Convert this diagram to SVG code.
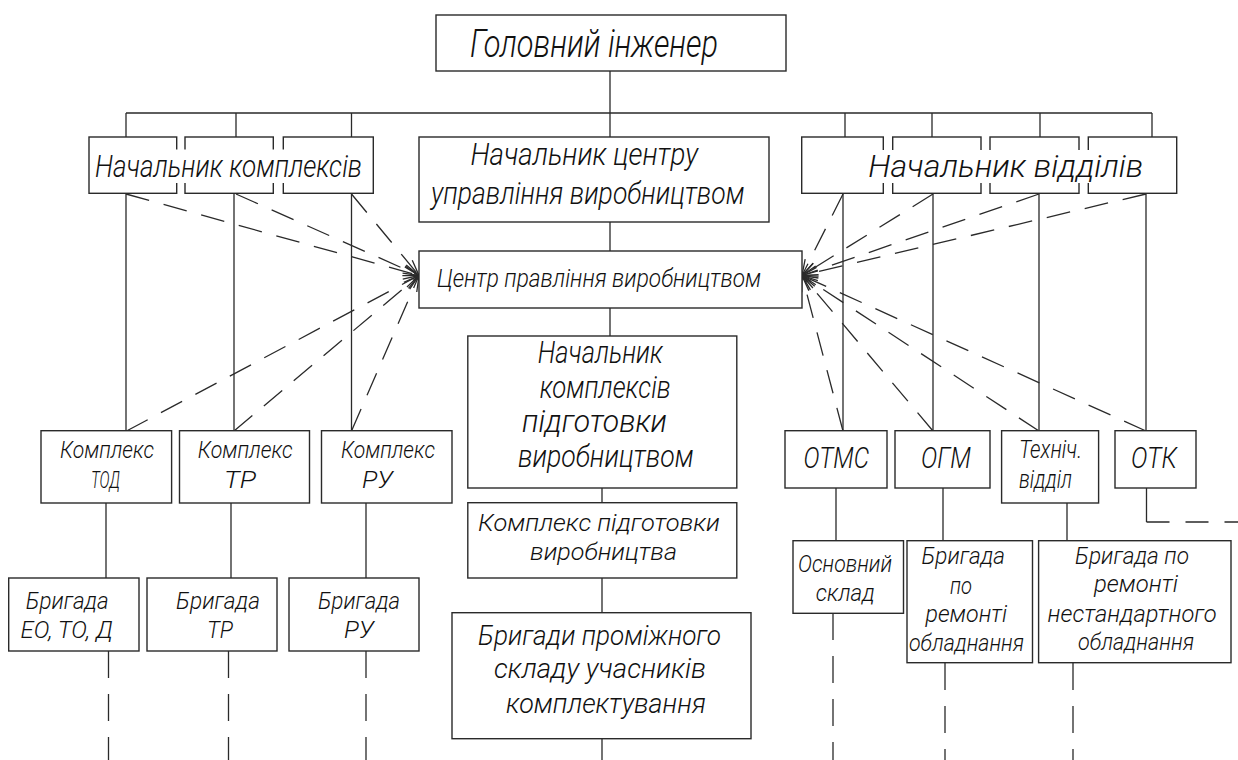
<svg xmlns="http://www.w3.org/2000/svg" width="1238" height="760" viewBox="0 0 1238 760">
<style>
.bg{fill:#fff}
.box{fill:#fff;stroke:#2a2a2a;stroke-width:1.4}
.mask{fill:#fff;stroke:none}
.ln{fill:none;stroke:#2a2a2a;stroke-width:1.3}
.dd{fill:none;stroke:#2a2a2a;stroke-width:1.3;stroke-dasharray:24 15}
.dv{fill:none;stroke:#2a2a2a;stroke-width:1.3;stroke-dasharray:27 16}
.dh{fill:none;stroke:#2a2a2a;stroke-width:1.3;stroke-dasharray:23 16}
.ar{marker-end:url(#ah)}
text{font-family:Roboto,"DejaVu Sans","Liberation Sans",sans-serif;font-style:italic;font-weight:300;fill:#111}
</style>
<defs>
<marker id="ah" markerUnits="userSpaceOnUse" orient="auto" refX="0" refY="0" markerWidth="20" markerHeight="12" overflow="visible">
<path d="M-16,-4.5 L0,0 L-16,4.5" fill="none" stroke="#2a2a2a" stroke-width="1.3" stroke-dasharray="none"/>
</marker>
</defs>
<rect class="bg" x="0" y="0" width="1238" height="760"/>

<g id="connectors">
<path class="ln" d="M610,71 V137 M126,113 H1152 M126,113 V137 M236,113 V137 M351.5,113 V137 M845,113 V137 M932,113 V137 M1040,113 V137 M1152,113 V137"/>
<path class="ln" d="M610,222 V251 M610,308 V336 M602,488 V503 M602,578 V613 M602,739 V760"/>
<path class="ln" d="M126,194 V431 M234,194 V431 M351.5,194 V431 M843,194 V431 M933,194 V431 M1039,194 V431 M1146,194 V431"/>
<path class="ln" d="M106,503 V578 M231,503 V578 M366,503 V578 M836,488 V541 M943,488 V541 M1067,503 V541 M1146.5,488 V522"/>
<path class="dh" d="M1146.5,522 H1238"/>
<path class="dv" d="M108.5,651 V760 M228.5,651 V760 M366,651 V760 M833,613 V760 M945,663 V760 M1073,663 V760"/>
<path class="dd ar" d="M126,194 L419,275.5"/>
<path class="dd ar" d="M236,194 L419,275.5"/>
<path class="dd ar" d="M351.5,194 L419,275.5"/>
<path class="dd ar" d="M126.5,431 L419,275.5"/>
<path class="dd ar" d="M234,431 L419,275.5"/>
<path class="dd ar" d="M351.5,431 L419,275.5"/>
<path class="dd ar" d="M843,194 L802,275.5"/>
<path class="dd ar" d="M933,194 L802,275.5"/>
<path class="dd ar" d="M1039,194 L802,275.5"/>
<path class="dd ar" d="M1146,194 L802,275.5"/>
<path class="dd ar" d="M843,431 L802,275.5"/>
<path class="dd ar" d="M933,431 L802,275.5"/>
<path class="dd ar" d="M1039,431 L802,275.5"/>
<path class="dd ar" d="M1146,431 L802,275.5"/>
</g>

<g id="n-chief">
<rect class="box" x="436" y="15" width="350" height="56"/>
<text x="470" y="57" font-size="38" textLength="248" lengthAdjust="spacingAndGlyphs">Головний інженер</text>
</g>

<g id="n-kompl-head">
<rect class="box" x="89" y="137" width="87.7" height="56.3"/>
<rect class="box" x="185" y="137" width="88.3" height="56.3"/>
<rect class="box" x="283.3" y="137" width="90" height="56.3"/>
<rect class="mask" x="92" y="149.5" width="278" height="33.5"/>
<text x="95" y="177" font-size="32" textLength="267" lengthAdjust="spacingAndGlyphs">Начальник комплексів</text>
</g>

<g id="n-center-head">
<rect class="box" x="419" y="137" width="350" height="85"/>
<text x="470.5" y="165" font-size="31" textLength="227.5" lengthAdjust="spacingAndGlyphs">Начальник центру</text>
<text x="431" y="204" font-size="31" textLength="313.5" lengthAdjust="spacingAndGlyphs">управління виробництвом</text>
</g>

<g id="n-dept-head">
<rect class="box" x="801.7" y="137" width="81.6" height="56.3"/>
<rect class="box" x="892.7" y="137" width="88.3" height="56.3"/>
<rect class="box" x="990" y="137" width="89" height="56.3"/>
<rect class="box" x="1088.3" y="137" width="88.4" height="56.3"/>
<rect class="mask" x="880" y="150" width="295" height="33"/>
<text x="868.3" y="177" font-size="32" textLength="275" lengthAdjust="spacingAndGlyphs">Начальник відділів</text>
</g>

<g id="n-cpv">
<rect class="box" x="419" y="251" width="383" height="57"/>
<text x="437" y="287" font-size="25" textLength="324" lengthAdjust="spacingAndGlyphs">Центр правління виробництвом</text>
</g>

<g id="n-nkpv">
<rect class="box" x="467.8" y="336" width="269" height="152"/>
<text x="537.8" y="363" font-size="31" textLength="125" lengthAdjust="spacingAndGlyphs">Начальник</text>
<text x="539.7" y="398" font-size="31" textLength="131" lengthAdjust="spacingAndGlyphs">комплексів</text>
<text x="522" y="432" font-size="31" textLength="145" lengthAdjust="spacingAndGlyphs">підготовки</text>
<text x="518" y="467" font-size="31" textLength="175.6" lengthAdjust="spacingAndGlyphs">виробництвом</text>
</g>

<g id="n-kpv">
<rect class="box" x="467.8" y="502.7" width="269" height="75.3"/>
<text x="478" y="531" font-size="24" textLength="242" lengthAdjust="spacingAndGlyphs">Комплекс підготовки</text>
<text x="530" y="560" font-size="24" textLength="147" lengthAdjust="spacingAndGlyphs">виробництва</text>
</g>

<g id="n-bpsu">
<rect class="box" x="452" y="612.7" width="299" height="126"/>
<text x="478" y="645" font-size="27" textLength="243" lengthAdjust="spacingAndGlyphs">Бригади проміжного</text>
<text x="494" y="678" font-size="27" textLength="212" lengthAdjust="spacingAndGlyphs">складу учасників</text>
<text x="506" y="713" font-size="27" textLength="200" lengthAdjust="spacingAndGlyphs">комплектування</text>
</g>

<g id="n-k-tod">
<rect class="box" x="41" y="430.7" width="130.6" height="72.3"/>
<text x="60" y="458" font-size="23.5" textLength="94" lengthAdjust="spacingAndGlyphs">Комплекс</text>
<text x="91" y="488" font-size="24" textLength="29" lengthAdjust="spacingAndGlyphs">ТОД</text>
</g>

<g id="n-k-tr">
<rect class="box" x="179.5" y="430.7" width="130" height="72.3"/>
<text x="197.7" y="458" font-size="23.5" textLength="95" lengthAdjust="spacingAndGlyphs">Комплекс</text>
<text x="224" y="488" font-size="24" textLength="32" lengthAdjust="spacingAndGlyphs">ТР</text>
</g>

<g id="n-k-ru">
<rect class="box" x="321.5" y="430.7" width="130.5" height="72.3"/>
<text x="341" y="458" font-size="23.5" textLength="94" lengthAdjust="spacingAndGlyphs">Комплекс</text>
<text x="362" y="488" font-size="24" textLength="31" lengthAdjust="spacingAndGlyphs">РУ</text>
</g>

<g id="n-b-eo">
<rect class="box" x="8.7" y="578" width="130.3" height="73"/>
<text x="25.7" y="609" font-size="23" textLength="83" lengthAdjust="spacingAndGlyphs">Бригада</text>
<text x="20.6" y="638" font-size="23" textLength="92" lengthAdjust="spacingAndGlyphs">ЕО, ТО, Д</text>
</g>

<g id="n-b-tr">
<rect class="box" x="147" y="578" width="130" height="73"/>
<text x="176" y="609" font-size="23" textLength="84" lengthAdjust="spacingAndGlyphs">Бригада</text>
<text x="207" y="638" font-size="23" textLength="26" lengthAdjust="spacingAndGlyphs">ТР</text>
</g>

<g id="n-b-ru">
<rect class="box" x="289" y="578" width="130" height="73"/>
<text x="318" y="609" font-size="23" textLength="82" lengthAdjust="spacingAndGlyphs">Бригада</text>
<text x="344" y="638" font-size="23" textLength="30" lengthAdjust="spacingAndGlyphs">РУ</text>
</g>

<g id="n-otms">
<rect class="box" x="785" y="430.7" width="102" height="57.3"/>
<text x="803.5" y="468" font-size="30" textLength="65.5" lengthAdjust="spacingAndGlyphs">ОТМС</text>
</g>

<g id="n-ogm">
<rect class="box" x="895" y="430.7" width="95" height="57.3"/>
<text x="921" y="468" font-size="30" textLength="50" lengthAdjust="spacingAndGlyphs">ОГМ</text>
</g>

<g id="n-tech">
<rect class="box" x="1001.6" y="430.7" width="97" height="72.3"/>
<text x="1019" y="458" font-size="25" textLength="63" lengthAdjust="spacingAndGlyphs">Техніч.</text>
<text x="1019" y="487.7" font-size="25" textLength="53" lengthAdjust="spacingAndGlyphs">відділ</text>
</g>

<g id="n-otk">
<rect class="box" x="1115" y="430.7" width="81" height="57.3"/>
<text x="1131" y="468" font-size="30" textLength="46" lengthAdjust="spacingAndGlyphs">ОТК</text>
</g>

<g id="n-sklad">
<rect class="box" x="793" y="540.7" width="110.5" height="72.6"/>
<text x="798" y="572" font-size="24" textLength="94" lengthAdjust="spacingAndGlyphs">Основний</text>
<text x="815.7" y="600.7" font-size="24" textLength="59" lengthAdjust="spacingAndGlyphs">склад</text>
</g>

<g id="n-b-rem">
<rect class="box" x="907" y="540.7" width="125.5" height="122"/>
<text x="921.5" y="564" font-size="24" textLength="83.5" lengthAdjust="spacingAndGlyphs">Бригада</text>
<text x="950" y="594" font-size="24" textLength="22" lengthAdjust="spacingAndGlyphs">по</text>
<text x="925.5" y="621.7" font-size="24" textLength="81.5" lengthAdjust="spacingAndGlyphs">ремонті</text>
<text x="909" y="650.7" font-size="24" textLength="115" lengthAdjust="spacingAndGlyphs">обладнання</text>
</g>

<g id="n-b-nest">
<rect class="box" x="1038.6" y="540.7" width="192.4" height="122"/>
<text x="1075" y="564.3" font-size="24" textLength="114" lengthAdjust="spacingAndGlyphs">Бригада по</text>
<text x="1094" y="591.7" font-size="24" textLength="84" lengthAdjust="spacingAndGlyphs">ремонті</text>
<text x="1047.6" y="621.7" font-size="24" textLength="169" lengthAdjust="spacingAndGlyphs">нестандартного</text>
<text x="1078" y="650" font-size="24" textLength="116" lengthAdjust="spacingAndGlyphs">обладнання</text>
</g>
</svg>
